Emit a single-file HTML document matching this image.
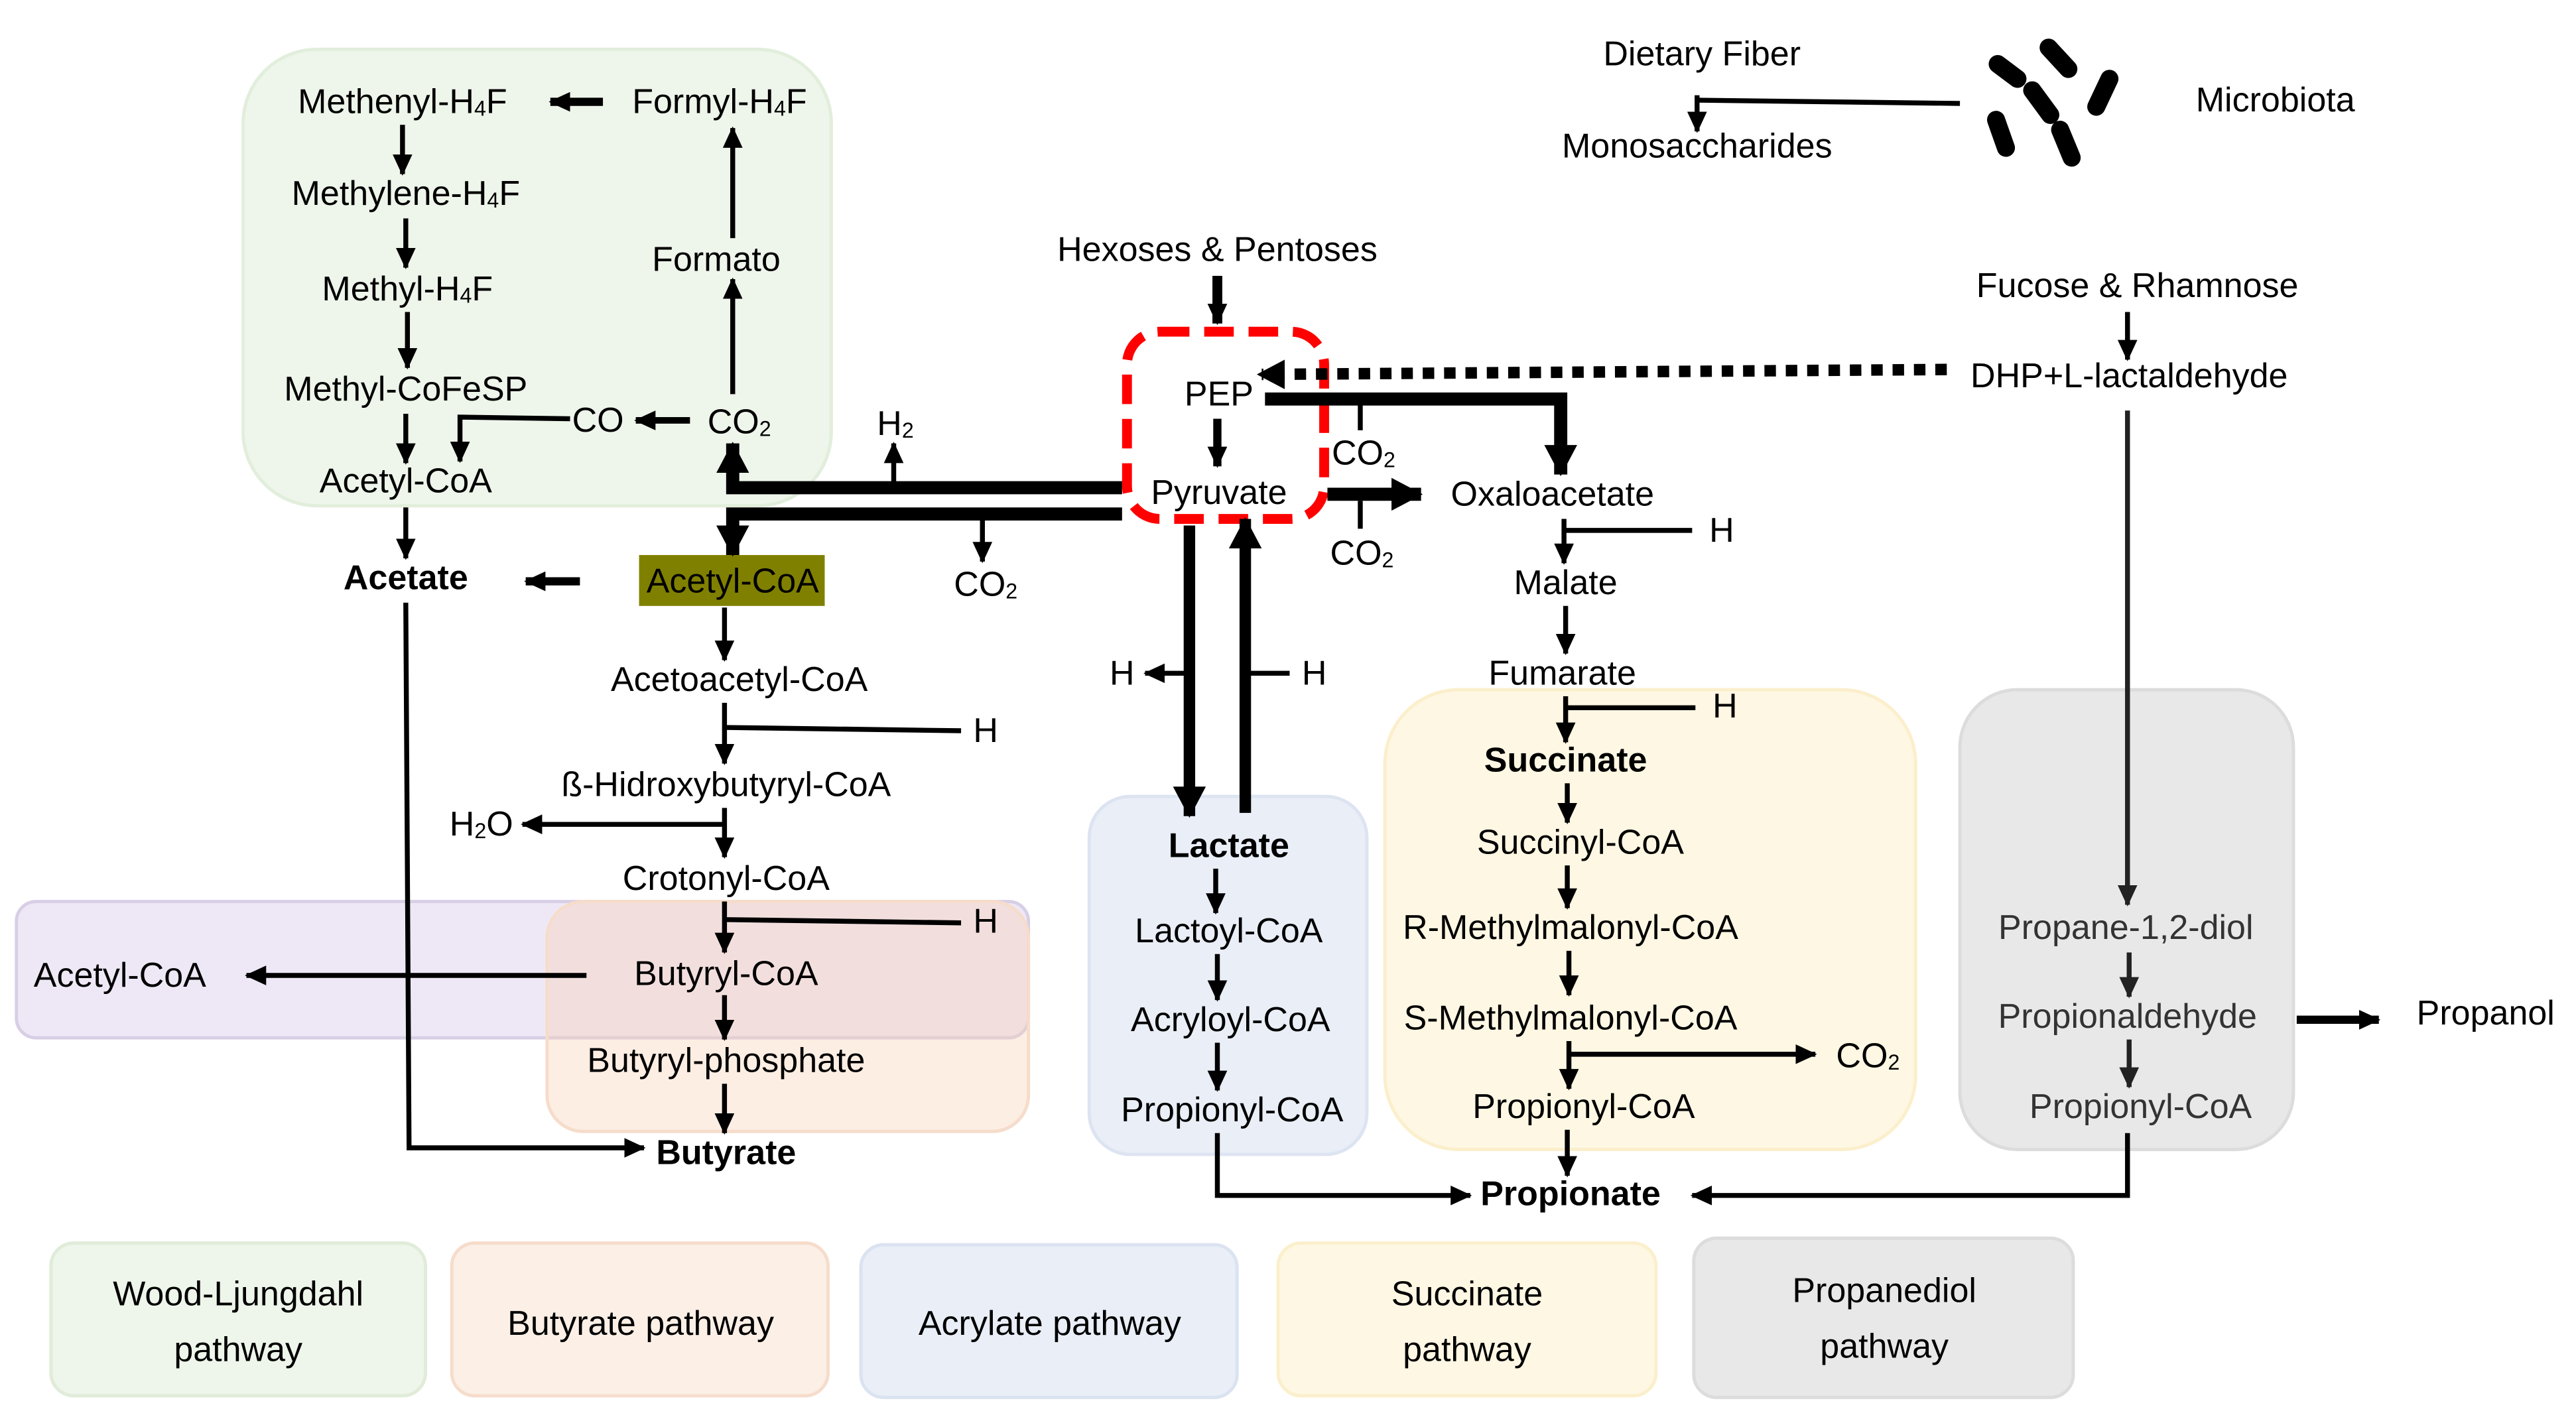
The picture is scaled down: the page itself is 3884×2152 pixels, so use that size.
<!DOCTYPE html>
<html><head><meta charset="utf-8"><style>
html,body{margin:0;padding:0;background:#fff;}
svg{display:block;}
text{font-family:"Liberation Sans",sans-serif;font-size:21px;fill:#000;text-anchor:middle;dominant-baseline:central;}
.b{font-weight:bold;}
.g{fill:#333;}
.s{font-size:13px;}
</style></head><body>
<svg width="3884" height="2152" viewBox="0 0 1568 869" preserveAspectRatio="none" xmlns="http://www.w3.org/2000/svg">
<defs>
<marker id="a" markerUnits="userSpaceOnUse" markerWidth="14" markerHeight="14" refX="12" refY="6" orient="auto"><path d="M0,0 L13,6 L0,12 z" fill="#000"/></marker>
<marker id="ag" markerUnits="userSpaceOnUse" markerWidth="14" markerHeight="14" refX="12" refY="6" orient="auto"><path d="M0,0 L13,6 L0,12 z" fill="#222"/></marker>
<marker id="t" markerUnits="userSpaceOnUse" markerWidth="22" markerHeight="22" refX="18" refY="10" orient="auto"><path d="M0,0 L19,10 L0,20 z" fill="#000"/></marker>
</defs>
<rect x="148" y="30" width="358" height="278" rx="45" fill="#eef5ea" stroke="#e2eedc" stroke-width="2"/>
<rect x="10" y="549" width="616" height="83" rx="12" fill="rgb(205,190,230)" fill-opacity="0.35" stroke="#d8cfe6" stroke-width="2"/>
<rect x="333" y="549" width="293" height="140" rx="22" fill="rgb(248,205,175)" fill-opacity="0.35" stroke="#f6dccb" stroke-width="2"/>
<rect x="663" y="485" width="169" height="218" rx="25" fill="#e9eef7" stroke="#dde4f1" stroke-width="2"/>
<rect x="843" y="420" width="323" height="280" rx="45" fill="#fef7e3" stroke="#fbefcc" stroke-width="2"/>
<rect x="1193" y="420" width="203" height="280" rx="35" fill="#e8e8e8" stroke="#dcdcdc" stroke-width="2"/>
<rect x="31" y="757" width="228" height="93" rx="14" fill="#eef5ea" stroke="#e0ecd9" stroke-width="2"/>
<rect x="275" y="757" width="229" height="93" rx="14" fill="#fbefe6" stroke="#f6dccb" stroke-width="2"/>
<rect x="524" y="758" width="229" height="93" rx="14" fill="#e9eef7" stroke="#dbe3f1" stroke-width="2"/>
<rect x="778" y="757" width="230" height="93" rx="14" fill="#fef7e3" stroke="#fbefcc" stroke-width="2"/>
<rect x="1031" y="754" width="231" height="97" rx="14" fill="#e8e8e8" stroke="#dcdcdc" stroke-width="2"/>
<text x="145" y="788">Wood-Ljungdahl</text><text x="145" y="822">pathway</text>
<text x="390" y="806">Butyrate pathway</text>
<text x="639" y="806">Acrylate pathway</text>
<text x="893" y="788">Succinate</text><text x="893" y="822">pathway</text>
<text x="1147" y="786">Propanediol</text><text x="1147" y="820">pathway</text>
<rect x="389" y="338" width="113" height="31" fill="#808000"/>
<rect x="686" y="202" width="120" height="114" rx="20" fill="none" stroke="#ff0000" stroke-width="6" stroke-dasharray="18,9"/>
<g stroke="#000" stroke-width="3" fill="none">
<line x1="245" y1="76" x2="245" y2="106" marker-end="url(#a)"/>
<line x1="247" y1="133" x2="247" y2="163" marker-end="url(#a)"/>
<line x1="248" y1="190" x2="248" y2="224" marker-end="url(#a)"/>
<line x1="247" y1="252" x2="247" y2="282" marker-end="url(#a)"/>
<line x1="367" y1="62" x2="335" y2="62" stroke-width="5" marker-end="url(#a)"/>
<line x1="446" y1="145" x2="446" y2="78" marker-end="url(#a)"/>
<line x1="446" y1="240" x2="446" y2="170" marker-end="url(#a)"/>
<line x1="420" y1="256" x2="387" y2="256" stroke-width="4" marker-end="url(#a)"/>
<polyline points="347,255 280,254 280,281" marker-end="url(#a)"/>
<line x1="247" y1="309" x2="247" y2="340" marker-end="url(#a)"/>
<polyline points="683,297 446,297 446,270" stroke-width="8" marker-end="url(#t)"/>
<line x1="544" y1="296" x2="544" y2="270" marker-end="url(#a)"/>
<polyline points="683,313 446,313 446,338" stroke-width="8" marker-end="url(#t)"/>
<line x1="598" y1="313" x2="598" y2="342" marker-end="url(#a)"/>
<line x1="353" y1="354" x2="320" y2="354" stroke-width="5" marker-end="url(#a)"/>
<line x1="441" y1="370" x2="441" y2="402" marker-end="url(#a)"/>
<line x1="441" y1="428" x2="441" y2="465" marker-end="url(#a)"/>
<line x1="441" y1="443" x2="585" y2="445"/>
<line x1="441" y1="492" x2="441" y2="522" marker-end="url(#a)"/>
<line x1="441" y1="502" x2="318" y2="502" marker-end="url(#a)"/>
<line x1="441" y1="549" x2="441" y2="580" marker-end="url(#a)"/>
<line x1="441" y1="560" x2="585" y2="562"/>
<line x1="357" y1="594" x2="150" y2="594" marker-end="url(#a)"/>
<line x1="441" y1="606" x2="441" y2="633" marker-end="url(#a)"/>
<line x1="441" y1="660" x2="441" y2="690" marker-end="url(#a)"/>
<polyline points="247,367 249,699 392,699" marker-end="url(#a)"/>
<line x1="741" y1="168" x2="741" y2="197" stroke-width="6" marker-end="url(#a)"/>
<line x1="741" y1="255" x2="741" y2="284" stroke-width="5" marker-end="url(#a)"/>
<line x1="1185" y1="225" x2="768" y2="228" stroke-width="7" stroke-dasharray="7,6"/>
<path d="M765,228 L782,219 L782,237 z" fill="#000" stroke="none"/>
<polyline points="770,243 950,243 950,289" stroke-width="8" marker-end="url(#t)"/>
<line x1="828" y1="246" x2="828" y2="262"/>
<line x1="808" y1="301" x2="865" y2="301" stroke-width="8" marker-end="url(#t)"/>
<line x1="828" y1="305" x2="828" y2="322"/>
<line x1="952" y1="316" x2="952" y2="343" marker-end="url(#a)"/>
<line x1="952" y1="323" x2="1030" y2="323"/>
<line x1="953" y1="369" x2="953" y2="398" marker-end="url(#a)"/>
<line x1="953" y1="424" x2="953" y2="452" marker-end="url(#a)"/>
<line x1="953" y1="431" x2="1032" y2="431"/>
<line x1="954" y1="477" x2="954" y2="501" marker-end="url(#a)"/>
<line x1="954" y1="527" x2="954" y2="553" marker-end="url(#a)"/>
<line x1="955" y1="579" x2="955" y2="606" marker-end="url(#a)"/>
<line x1="955" y1="634" x2="955" y2="663" marker-end="url(#a)"/>
<line x1="955" y1="642" x2="1105" y2="642" marker-end="url(#a)"/>
<line x1="954" y1="688" x2="954" y2="716" marker-end="url(#a)"/>
<line x1="724" y1="320" x2="724" y2="497" stroke-width="7" marker-end="url(#t)"/>
<line x1="758" y1="495" x2="758" y2="316" stroke-width="7" marker-end="url(#t)"/>
<line x1="724" y1="410" x2="697" y2="410" marker-end="url(#a)"/>
<line x1="758" y1="410" x2="785" y2="410"/>
<line x1="740" y1="529" x2="740" y2="556" marker-end="url(#a)"/>
<line x1="741" y1="581" x2="741" y2="609" marker-end="url(#a)"/>
<line x1="741" y1="635" x2="741" y2="664" marker-end="url(#a)"/>
<polyline points="741,690 741,728 895,728" marker-end="url(#a)"/>
<line x1="1295" y1="190" x2="1295" y2="219" marker-end="url(#a)"/>
<line x1="1295" y1="250" x2="1295" y2="551" stroke="#222" marker-end="url(#ag)"/>
<line x1="1296" y1="580" x2="1296" y2="607" stroke="#222" marker-end="url(#ag)"/>
<line x1="1296" y1="633" x2="1296" y2="662" stroke="#222" marker-end="url(#ag)"/>
<line x1="1398" y1="621" x2="1448" y2="621" stroke-width="5" marker-end="url(#a)"/>
<polyline points="1295,690 1295,728 1030,728" marker-end="url(#a)"/>
<polyline points="1193,63 1033,61"/>
<line x1="1033" y1="58" x2="1033" y2="80" marker-end="url(#a)"/>
</g>
<g stroke="#000" stroke-width="11" stroke-linecap="round">
<line x1="1216" y1="39" x2="1228" y2="48"/>
<line x1="1247" y1="29" x2="1259" y2="42"/>
<line x1="1237" y1="55" x2="1248" y2="70"/>
<line x1="1284" y1="48" x2="1276" y2="65"/>
<line x1="1215" y1="73" x2="1221" y2="90"/>
<line x1="1254" y1="79" x2="1261" y2="96"/>
</g>
<text x="245" y="62">Methenyl-H<tspan class="s" dy="4">4</tspan><tspan dy="-4">F</tspan></text>
<text x="438" y="62">Formyl-H<tspan class="s" dy="4">4</tspan><tspan dy="-4">F</tspan></text>
<text x="247" y="118">Methylene-H<tspan class="s" dy="4">4</tspan><tspan dy="-4">F</tspan></text>
<text x="436" y="158">Formato</text>
<text x="248" y="176">Methyl-H<tspan class="s" dy="4">4</tspan><tspan dy="-4">F</tspan></text>
<text x="247" y="237">Methyl-CoFeSP</text>
<text x="364" y="256">CO</text>
<text x="450" y="257">CO<tspan class="s" dy="4">2</tspan></text>
<text x="247" y="293">Acetyl-CoA</text>
<text x="545" y="258">H<tspan class="s" dy="4">2</tspan></text>
<text x="741" y="152">Hexoses &amp; Pentoses</text>
<text x="742" y="240">PEP</text>
<text x="742" y="300">Pyruvate</text>
<text x="830" y="276">CO<tspan class="s" dy="4">2</tspan></text>
<text x="945" y="301">Oxaloacetate</text>
<text x="829" y="337">CO<tspan class="s" dy="4">2</tspan></text>
<text x="1048" y="323">H</text>
<text x="953" y="355">Malate</text>
<text x="951" y="410">Fumarate</text>
<text x="1050" y="430">H</text>
<text x="953" y="463" class="b">Succinate</text>
<text x="962" y="513">Succinyl-CoA</text>
<text x="956" y="565">R-Methylmalonyl-CoA</text>
<text x="956" y="620">S-Methylmalonyl-CoA</text>
<text x="1137" y="643">CO<tspan class="s" dy="4">2</tspan></text>
<text x="964" y="674">Propionyl-CoA</text>
<text x="956" y="727" class="b">Propionate</text>
<text x="247" y="352" class="b">Acetate</text>
<text x="446" y="354">Acetyl-CoA</text>
<text x="600" y="356">CO<tspan class="s" dy="4">2</tspan></text>
<text x="450" y="414">Acetoacetyl-CoA</text>
<text x="600" y="445">H</text>
<text x="442" y="478">ß-Hidroxybutyryl-CoA</text>
<text x="293" y="502">H<tspan class="s" dy="4">2</tspan><tspan dy="-4">O</tspan></text>
<text x="442" y="535">Crotonyl-CoA</text>
<text x="600" y="561">H</text>
<text x="442" y="593">Butyryl-CoA</text>
<text x="73" y="594">Acetyl-CoA</text>
<text x="442" y="646">Butyryl-phosphate</text>
<text x="442" y="702" class="b">Butyrate</text>
<text x="683" y="410">H</text>
<text x="800" y="410">H</text>
<text x="748" y="515" class="b">Lactate</text>
<text x="748" y="567">Lactoyl-CoA</text>
<text x="749" y="621">Acryloyl-CoA</text>
<text x="750" y="676">Propionyl-CoA</text>
<text x="1036" y="33">Dietary Fiber</text>
<text x="1033" y="89">Monosaccharides</text>
<text x="1385" y="61">Microbiota</text>
<text x="1301" y="174">Fucose &amp; Rhamnose</text>
<text x="1296" y="229">DHP+L-lactaldehyde</text>
<text x="1294" y="565" class="g">Propane-1,2-diol</text>
<text x="1295" y="619" class="g">Propionaldehyde</text>
<text x="1303" y="674" class="g">Propionyl-CoA</text>
<text x="1513" y="617">Propanol</text>
</svg>
</body></html>
